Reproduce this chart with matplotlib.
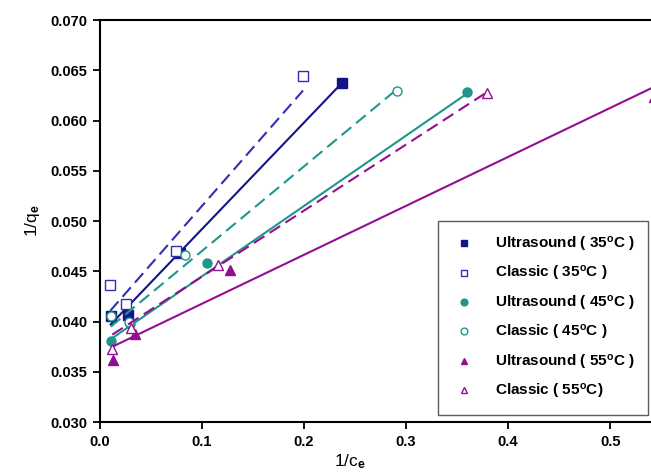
import numpy as np
import matplotlib.pyplot as plt

plt.rcParams['font.family'] = ['Liberation Sans', 'DejaVu Sans']
plt.rcParams['mathtext.fontset'] = 'custom'
plt.rcParams['mathtext.rm'] = 'Liberation Sans:bold'
plt.rcParams['mathtext.bf'] = 'Liberation Sans:bold'
plt.rcParams['mathtext.it'] = 'Liberation Sans:bold'

# data: 1/ce vs 1/qe
us35_x = [0.0105, 0.0275, 0.078, 0.237]
us35_y = [0.0405, 0.0406, 0.0468, 0.0637]
cl35_x = [0.010, 0.025, 0.074, 0.199]
cl35_y = [0.0436, 0.0417, 0.0470, 0.0644]
us45_x = [0.011, 0.029, 0.105, 0.360]
us45_y = [0.0381, 0.0398, 0.0458, 0.0628]
cl45_x = [0.0105, 0.0285, 0.083, 0.291]
cl45_y = [0.0405, 0.0400, 0.0466, 0.0629]
us55_x = [0.013, 0.034, 0.127, 0.543]
us55_y = [0.0362, 0.0388, 0.0451, 0.0623]
cl55_x = [0.012, 0.030, 0.116, 0.379]
cl55_y = [0.0373, 0.0394, 0.0456, 0.0627]

# trend lines (slope, intercept) as drawn in the original
fits = {
    'us35': (0.106, 0.0386),
    'cl35': (0.116, 0.0399),
    'us45': (0.070, 0.0375),
    'cl45': (0.0842, 0.0386),
    'us55': (0.0487, 0.0369),
    'cl55': (0.0657, 0.0379),
}

navy = '#14148a'
navy2 = '#3030b0'
teal = '#1f968c'
purple = '#920f92'

series = [
    ('us35', us35_x, us35_y, navy, 's', True, '-', 'Ultrasound ( 35$^{\\mathbf{o}}$C )'),
    ('cl35', cl35_x, cl35_y, navy2, 's', False, (0, (6, 3)), 'Classic ( 35$^{\\mathbf{o}}$C )'),
    ('us45', us45_x, us45_y, teal, 'o', True, '-', 'Ultrasound ( 45$^{\\mathbf{o}}$C )'),
    ('cl45', cl45_x, cl45_y, teal, 'o', False, (0, (6, 3)), 'Classic ( 45$^{\\mathbf{o}}$C )'),
    ('us55', us55_x, us55_y, purple, '^', True, '-', 'Ultrasound ( 55$^{\\mathbf{o}}$C )'),
    ('cl55', cl55_x, cl55_y, purple, '^', False, (0, (6, 3)), 'Classic ( 55$^{\\mathbf{o}}$C)'),
]

fig = plt.figure(figsize=(6.51, 4.74), dpi=100)
ax = fig.add_axes([0.1536, 0.1097, 0.8464, 0.8481])

for key, xs, ys, col, mk, filled, ls, lab in series:
    m, b = fits[key]
    xl = np.array([min(xs), max(xs)])
    ax.plot(xl, m * xl + b, color=col, ls=ls, lw=1.5)
    ax.plot(xs, ys, ls='none', marker=mk, ms=6.5,
            markerfacecolor=col if filled else 'white',
            markeredgecolor=col, markeredgewidth=1.0, label=lab)

ax.set_xlim(0, 0.54)
ax.set_ylim(0.030, 0.070)
ax.set_xticks([0.0, 0.1, 0.2, 0.3, 0.4, 0.5])
ax.set_xticklabels(['0.0', '0.1', '0.2', '0.3', '0.4', '0.5'])
ax.set_yticks(np.arange(0.030, 0.0701, 0.005))
ax.set_yticklabels(['%.3f' % v for v in np.arange(0.030, 0.0701, 0.005)])
ax.tick_params(direction='out', length=5, width=1.3, labelsize=10.5, pad=4)
for t in ax.get_xticklabels() + ax.get_yticklabels():
    t.set_fontweight('bold')
for s in ['left', 'bottom', 'top']:
    ax.spines[s].set_linewidth(1.5)
ax.spines['right'].set_visible(False)

ax.set_xlabel('1/c$_{e}$', fontsize=12.5)
ax.xaxis.set_label_coords(0.454, -0.075)
ax.set_ylabel('1/q$_{e}$', fontsize=12.5)
ax.yaxis.set_label_coords(-0.105, 0.5)

leg = ax.legend(loc='lower right', bbox_to_anchor=(0.995, 0.018), frameon=True,
                fancybox=False, edgecolor='#333333', fontsize=11,
                handletextpad=1.2, labelspacing=0.68, borderpad=0.9,
                handlelength=1.6, markerscale=0.75, borderaxespad=0)
leg.get_frame().set_linewidth(1.0)
for t in leg.get_texts():
    t.set_fontweight('bold')

fig.savefig('out.png', dpi=100)
